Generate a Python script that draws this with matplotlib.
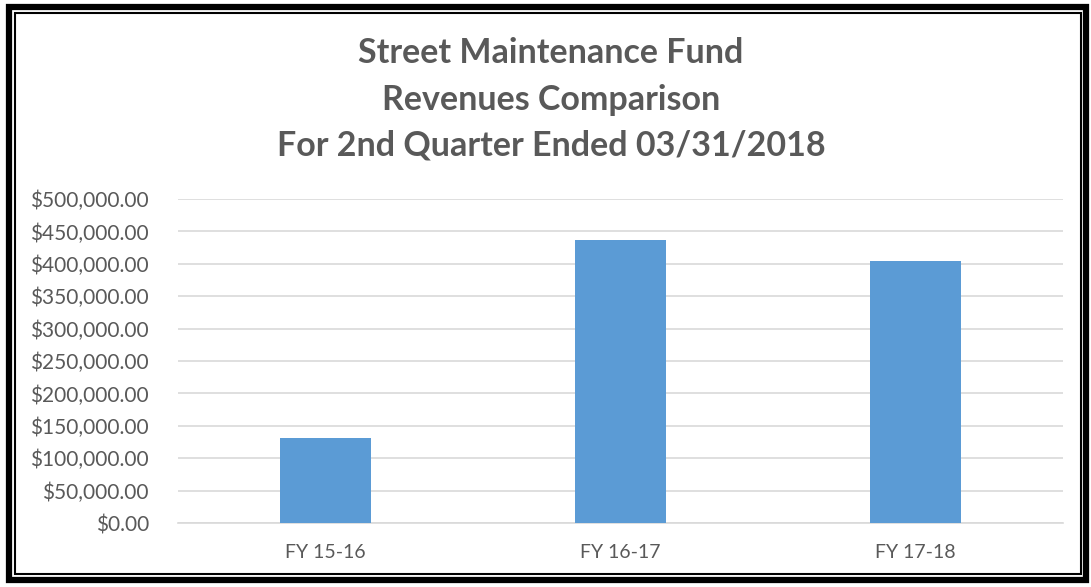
import matplotlib
matplotlib.use("Agg")
import matplotlib.pyplot as plt
from matplotlib.patches import Rectangle
from matplotlib.ticker import FuncFormatter, MultipleLocator

categories = ["FY 15-16", "FY 16-17", "FY 17-18"]
revenues = [131000, 437000, 404500]
title_lines = ["Street Maintenance Fund", "Revenues Comparison", "For 2nd Quarter Ended 03/31/2018"]

plt.rcParams['font.family'] = ['Lato', 'DejaVu Sans']

W, H = 1091, 587
fig = plt.figure(figsize=(W / 100, H / 100), dpi=100)

ax = fig.add_axes([178 / W, 1 - 523 / H, 885 / W, 324 / H])
x = range(len(categories))
ax.bar(x, revenues, width=0.31, color="#5B9BD5", zorder=3)
ax.set_xlim(-0.5, 2.5)
ax.set_ylim(0, 500000)
ax.yaxis.set_major_locator(MultipleLocator(50000))
ax.yaxis.set_major_formatter(FuncFormatter(lambda v, p: f"${v:,.2f}"))
ax.set_xticks(list(x))
ax.set_xticklabels(categories)
ax.grid(axis="y", color="#D9D9D9", linewidth=1.2, zorder=0)
for s in ["top", "right", "left"]:
    ax.spines[s].set_visible(False)
ax.spines["bottom"].set_color("#D9D9D9")
ax.spines["bottom"].set_linewidth(1.2)
ax.tick_params(axis="both", length=0, colors="#595959")
ax.tick_params(axis="y", pad=21, labelsize=15)
ax.tick_params(axis="x", pad=15, labelsize=14)

ys = [53, 100, 146]
for line, y in zip(title_lines, ys):
    fig.text(551 / W, 1 - y / H, line, ha="center", va="center",
             fontsize=24.5, fontweight="bold", color="#595959")

# border frame
fig.patches.append(Rectangle((9 / W, 7 / H), (1086 - 9) / W, (580 - 7) / H,
                             transform=fig.transFigure, fill=False,
                             edgecolor="black", linewidth=4.5))
fig.patches.append(Rectangle((15 / W, 13 / H), (1081 - 15) / W, (574 - 13) / H,
                             transform=fig.transFigure, fill=False,
                             edgecolor="black", linewidth=1.5))

fig.savefig("out.png", dpi=100)
